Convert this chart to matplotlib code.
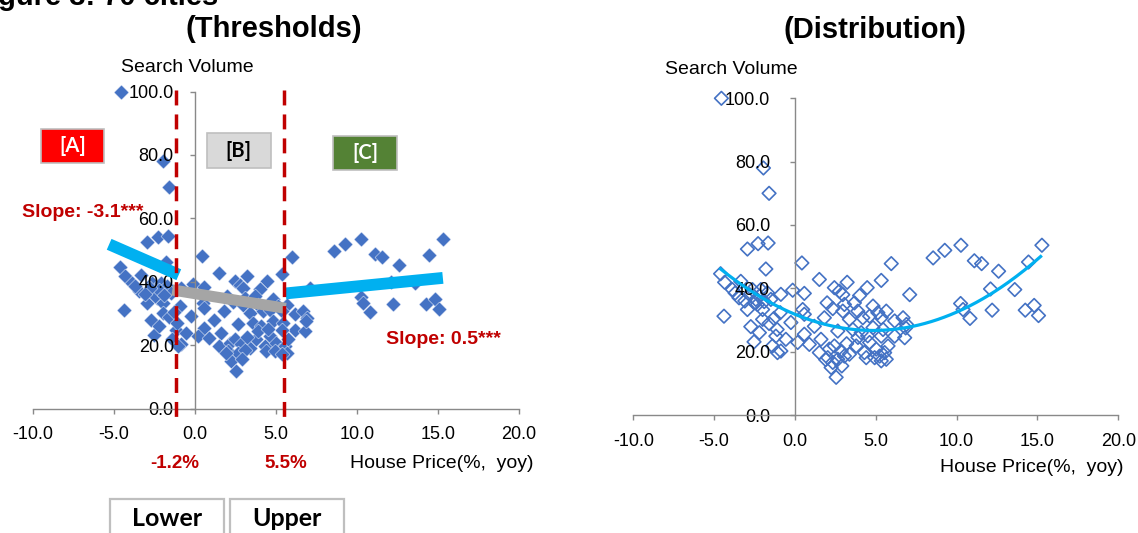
import matplotlib
matplotlib.use("Agg")
import matplotlib.pyplot as plt
from matplotlib.patches import Rectangle
from matplotlib.ticker import FormatStrFormatter
import numpy as np

W, H = 1138, 533
plt.rcParams['font.family'] = ['Liberation Sans', 'DejaVu Sans']
plt.rcParams['axes.unicode_minus'] = False

# ---- data: house price growth (% yoy) vs. search volume, 70 cities ----
house_price = [
    -4.55, -1.95, -1.6,
    -2.94, -2.28, -1.66, -1.8, -4.6, -4.35, -3.87, -3.46, -3.35, -2.63, -2.42,
    -2.11, -2.32, -2.0, -1.7, -1.49, -2.94, -4.39, -2.73, -2.0, -1.6, -2.53,
    -1.18, -1.39, -0.87, -1.08, -0.87, -0.91, -0.25, -0.56, -0.14, 0.58, 0.48,
    0.58, 0.17, 0.43,
    -2.5, -2.2, -2.8, -3.1, -1.9, -3.7, -1.3, -1.1, -2.2,
    5.96, 1.51, 5.34, 2.44, 2.75, 3.23, 2.96, 4.47, 4.0, 7.1, 1.99, 2.34, 3.06,
    3.68, 2.96, 3.89, 4.83, 5.13, 5.65, 0.58, 1.82, 3.37, 4.2, 4.62, 5.34, 6.17,
    6.69, 2.65, 3.58, 4.1, 4.83, 5.45, 6.17, 6.79, 1.2, 0.89, 1.61, 1.51, 2.13,
    2.44, 2.86, 3.37, 3.79, 4.3, 4.62, 5.03, 5.24, 5.55, 5.65, 5.76, 5.34, 2.03,
    2.34, 2.65, 3.06, 2.24, 2.55, 4.41, 4.93, 5.34, 1.9, 2.9, 3.2, 3.9, 4.5,
    8.55, 9.27, 10.27, 11.1, 11.55, 12.6, 15.28, 14.45, 12.1, 13.6, 10.25, 10.4,
    10.83, 12.2, 14.25, 14.8, 15.07, 6.9, 6.85,
]
search_volume = [
    100.0, 78.0, 70.0,
    52.4, 54.1, 54.3, 46.1, 44.6, 41.9, 39.6, 37.0, 42.2, 39.6, 36.5,
    39.6, 34.9, 33.3, 38.6, 36.5, 33.3, 31.2, 27.9, 30.2, 28.9, 23.1,
    24.9, 21.8, 20.2, 19.7, 38.1, 32.3, 29.2, 23.9, 39.4, 38.4, 33.3,
    25.5, 22.9, 48.0,
    35.5, 37.5, 38.0, 36.0, 35.8, 38.5, 30.5, 27.0, 26.0,
    47.8, 42.8, 42.5, 40.2, 39.1, 41.9, 38.0, 40.2, 37.7, 38.0, 35.4, 33.6, 34.9,
    35.4, 32.8, 32.8, 34.4, 32.3, 32.8, 31.8, 30.7, 30.2, 30.7, 31.2, 30.7, 29.7,
    30.7, 26.5, 27.0, 26.0, 27.6, 27.0, 24.9, 24.4, 28.0, 22.3, 23.9, 19.7, 20.8,
    21.8, 20.2, 19.2, 21.8, 19.7, 22.9, 20.8, 18.6, 19.7, 17.6, 21.8, 24.9, 18.1,
    16.6, 17.6, 18.6, 15.0, 11.9, 18.1, 18.1, 17.1, 17.5, 15.5, 22.5, 24.5, 25.0,
    49.6, 52.0, 53.6, 48.7, 47.8, 45.4, 53.6, 48.3, 39.8, 39.6, 35.2, 33.3,
    30.5, 33.1, 33.1, 34.6, 31.4, 28.6, 27.5,
]

# threshold regression: breakpoints and fitted segments
lower_threshold = -1.2
upper_threshold = 5.5
seg_a_x, seg_a_y = [-5.3, -1.0], [51.8, 42.2]
seg_b_x, seg_b_y = [-1.4, 5.6], [37.4, 31.6]
seg_c_x, seg_c_y = [5.6, 15.3], [36.3, 41.2]
slope_a_label = "Slope: -3.1***"
slope_c_label = "Slope: 0.5***"

# quadratic trend (highest power first) and its x range
trend_coef = [0.2177, -2.109, 31.8]
trend_range = [-4.6, 15.2]

x_ticks = [-10, -5, 0, 5, 10, 15, 20]
y_ticks = [0, 20, 40, 60, 80, 100]

BLUE = '#4472C4'
CYAN = '#00B0F0'
GREY_FIT = '#A5A5A5'
RED = '#C00000'
AXIS_GREY = '#898989'


def fx(x):
    return x / W


def fy(y):
    return 1 - y / H


fig = plt.figure(figsize=(W / 100, H / 100), dpi=100)

ax1 = fig.add_axes([33 / W, 1 - 408.5 / H, 486 / W, 317 / H])
ax2 = fig.add_axes([633.3 / W, 1 - 415 / H, 484.9 / W, 316.7 / H])


def style_axes(ax, ypad):
    ax.set_xlim(-10, 20)
    ax.set_ylim(0, 100)
    ax.set_xticks(x_ticks)
    ax.set_yticks(y_ticks)
    ax.xaxis.set_major_formatter(FormatStrFormatter('%.1f'))
    ax.yaxis.set_major_formatter(FormatStrFormatter('%.1f'))
    for s in ('top', 'right'):
        ax.spines[s].set_visible(False)
    ax.spines['left'].set_position(('data', 0))
    for s in ('left', 'bottom'):
        ax.spines[s].set_color(AXIS_GREY)
        ax.spines[s].set_linewidth(1.0)
    ax.tick_params(axis='both', colors=AXIS_GREY, labelcolor='black',
                   direction='out', length=3.8, width=1.0, labelsize=13)
    ax.tick_params(axis='x', pad=9)
    ax.tick_params(axis='y', pad=ypad)
    ax.patch.set_visible(False)


style_axes(ax1, 11.5)
style_axes(ax2, 14)

# ---- left: thresholds ----
ax1.scatter(house_price, search_volume, marker='D', s=58, color=BLUE,
            edgecolors='white', linewidths=0.3, clip_on=False, zorder=1)
ax1.plot(seg_a_x, seg_a_y, color=CYAN, lw=8.5, solid_capstyle='butt', zorder=3)
ax1.plot(seg_b_x, seg_b_y, color=GREY_FIT, lw=8, solid_capstyle='butt', zorder=3)
ax1.plot(seg_c_x, seg_c_y, color=CYAN, lw=8.5, solid_capstyle='butt', zorder=3)
for t in (lower_threshold, upper_threshold):
    ax1.plot([t, t], [100.5, -3], color=RED, lw=2.5, dashes=(4.3, 2.6),
             clip_on=False, zorder=5)

# ---- right: distribution ----
ax2.scatter(house_price, search_volume, marker='D', s=48, facecolors='none',
            edgecolors=BLUE, linewidths=1.2, clip_on=False, zorder=1)
tx = np.linspace(trend_range[0], trend_range[1], 200)
ax2.plot(tx, np.polyval(trend_coef, tx), color=CYAN, lw=2.3, zorder=3)

# ---- titles and axis captions ----
fig.text(fx(218), fy(5), 'Figure 3: 70 cities', ha='right', va='baseline',
         fontsize=21, fontweight='bold')
fig.text(fx(274), fy(29), '(Thresholds)', ha='center', va='center',
         fontsize=21, fontweight='bold')
fig.text(fx(875), fy(30), '(Distribution)', ha='center', va='center',
         fontsize=21, fontweight='bold')
fig.text(fx(187.5), fy(68), 'Search Volume', ha='center', va='center', fontsize=14)
fig.text(fx(731), fy(70), 'Search Volume', ha='center', va='center', fontsize=14)
fig.text(fx(534), fy(463), 'House Price(%,  yoy)', ha='right', va='center', fontsize=14)
fig.text(fx(1123), fy(468), 'House Price(%,  yoy)', ha='right', va='center', fontsize=14)

# threshold values under the x axis
fig.text(fx(174.3), fy(463), f'{lower_threshold:.1f}%', ha='center', va='center',
         fontsize=13.5, fontweight='bold', color=RED)
fig.text(fx(285.7), fy(463), f'{upper_threshold:.1f}%', ha='center', va='center',
         fontsize=13.5, fontweight='bold', color=RED)

# slope annotations
fig.text(fx(22), fy(212.7), slope_a_label, ha='left', va='center',
         fontsize=14, fontweight='bold', color=RED)
fig.text(fx(386.5), fy(340), slope_c_label, ha='left', va='center',
         fontsize=14, fontweight='bold', color=RED)


def box(x0, y0, x1, y1, face, edge, label, tcolor, size, lw=1.2):
    fig.add_artist(Rectangle((fx(x0), fy(y1)), (x1 - x0) / W, (y1 - y0) / H,
                             transform=fig.transFigure, facecolor=face,
                             edgecolor=edge, linewidth=lw, clip_on=False))
    fig.text(fx((x0 + x1) / 2), fy((y0 + y1) / 2), label, ha='center', va='center',
             fontsize=size, fontweight='bold', color=tcolor, family='Lato')


# regime labels
box(40.7, 129.3, 104.3, 162.7, '#FF0000', '#BFBFBF', '[A]', 'white', 14.5)
box(206.7, 133.3, 270.7, 168.3, '#D9D9D9', '#BFBFBF', '[B]', 'black', 14.5)
box(333, 136, 397, 170, '#548235', '#BFBFBF', '[C]', 'white', 14.5)

# bottom tabs
box(110, 499, 224, 545, 'white', '#BFBFBF', '', 'black', 18, lw=1.6)
box(229.6, 499, 343.6, 545, 'white', '#BFBFBF', '', 'black', 18, lw=1.6)
fig.text(fx(167), fy(519), 'Lower', ha='center', va='center', fontsize=18,
         fontweight='bold', family='Lato')
fig.text(fx(286.6), fy(519), 'Upper', ha='center', va='center', fontsize=18,
         fontweight='bold', family='Lato')

fig.savefig('out.png', dpi=100)
